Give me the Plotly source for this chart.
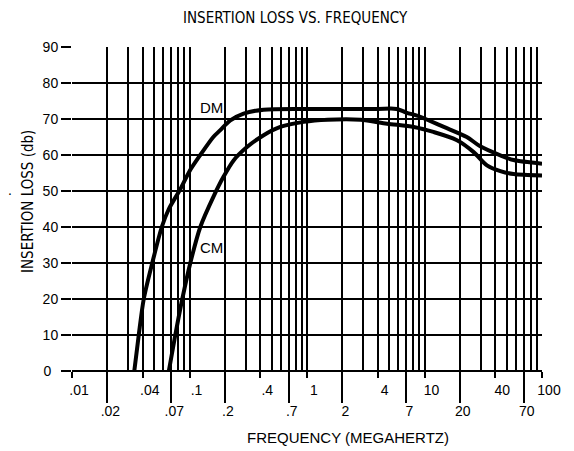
import plotly.graph_objects as go

# ---- data ----
dm_freq = [0.0339, 0.0370, 0.0408, 0.0482, 0.0581, 0.0667, 0.0835, 0.1, 0.1236, 0.1595, 0.1829,
           0.2225, 0.2887, 0.4272, 1, 2, 4, 5.8, 7, 9.2, 14.6, 22.9, 29.8, 44.2, 57.3, 100]
dm_db = [0, 10, 20, 30, 40, 45, 50.5, 55.5, 60, 65, 66.9,
         69.6, 71.5, 72.6, 72.8, 72.8, 72.8, 72.8, 71.8, 70.6, 67.8, 65.0, 62.4, 59.9, 58.6, 57.6]

cm_freq = [0.0667, 0.0757, 0.0868, 0.1016, 0.1236, 0.1604, 0.1951, 0.2373, 0.3086, 0.4272,
           0.5928, 0.9357, 1.5, 2.85, 4.8, 8.1, 11.9, 18.9, 26.2, 34, 44.2, 57.3, 100]
cm_db = [0, 10, 20, 30, 40, 48.5, 54, 58.5, 62.2, 65.5,
         67.8, 69.2, 69.8, 69.8, 68.7, 67.8, 66.4, 64.1, 60.8, 57.1, 55.5, 54.7, 54.3]

short_ticks = [0.01, 0.04, 0.1, 0.4, 1, 4, 10, 40, 100]
short_labels = [".01", ".04", ".1", ".4", "1", "4", "10", "40", "100"]
long_ticks = [0.02, 0.07, 0.2, 0.7, 2, 7, 20, 70]
long_labels = [".02", ".07", ".2", ".7", "2", "7", "20", "70"]
grid_freq = [m * 10 ** e for e in (-2, -1, 0, 1) for m in range(1, 10)] + [100]
y_ticks = [0, 10, 20, 30, 40, 50, 60, 70, 80, 90]
y_labels = ["0\u2002", "10", "20", "30", "40", "50", "60", "70", "80", "90"]

title_text = "INSERTION LOSS VS. FREQUENCY"
x_title = "FREQUENCY (MEGAHERTZ)"
y_title = "INSERTION LOSS (db)"

FONT = "Liberation Sans, Arial, sans-serif"
NARROW = "DejaVu Sans Condensed, Liberation Sans Narrow, Liberation Sans, sans-serif"

# page body has an 8px margin: figure is 8px smaller and offset
W, H = 566, 443
ML, MR, MT, MB = 64, 32, 39, 80
PW = W - ML - MR   # 470
PH = H - MT - MB   # 324


def px(xw):  # window x -> paper x
    return (xw - 8 - ML) / PW


def py(yw):  # window y -> paper y
    return 1 - (yw - 8 - MT) / PH


fig = go.Figure()
fig.add_trace(go.Scatter(x=dm_freq, y=dm_db, mode="lines", name="DM",
                         line=dict(color="black", width=4, shape="spline", smoothing=0.8),
                         xaxis="x", yaxis="y"))
fig.add_trace(go.Scatter(x=cm_freq, y=cm_db, mode="lines", name="CM",
                         line=dict(color="black", width=4, shape="spline", smoothing=0.8),
                         xaxis="x2", yaxis="y"))

axis_common = dict(type="log", range=[-2, 2], color="black",
                   tickfont=dict(family=FONT, size=14, color="black"),
                   tickcolor="black", tickwidth=2, ticks="outside")

fig.update_layout(
    width=W, height=H,
    margin=dict(l=ML, r=MR, t=MT, b=MB),
    paper_bgcolor="white", plot_bgcolor="white",
    showlegend=False,
    xaxis=dict(**axis_common, tickmode="array", tickvals=short_ticks, ticktext=short_labels,
               ticklen=6, ticklabelshift=7, automargin=False,
               showgrid=True, gridcolor="black", gridwidth=2,
               minor=dict(tickmode="array", tickvals=grid_freq, showgrid=True,
                          gridcolor="black", gridwidth=2, ticks=""),
               zeroline=False, showline=False),
    xaxis2=dict(**axis_common, overlaying="x", anchor="y", side="bottom", automargin=False,
                tickmode="array", tickvals=long_ticks, ticktext=long_labels,
                ticklen=31, ticklabelshift=3, ticklabelstandoff=-4,
                showgrid=False, zeroline=False, showline=False),
    yaxis=dict(range=[0, 90], tickmode="array", tickvals=y_ticks, ticktext=y_labels,
               automargin=False,
               ticks="outside", ticklen=10, tickwidth=2, tickcolor="black",
               tickfont=dict(family=FONT, size=14, color="black"),
               showgrid=True, gridcolor="black", gridwidth=2,
               zeroline=True, zerolinecolor="black", zerolinewidth=2, showline=False),
    annotations=[
        dict(text=title_text, xref="paper", yref="paper", x=px(295), y=py(18),
             showarrow=False, xanchor="center", yanchor="middle",
             font=dict(family=NARROW, size=15, color="black")),
        dict(text=x_title, xref="paper", yref="paper", x=px(348), y=py(437),
             showarrow=False, xanchor="center", yanchor="middle",
             font=dict(family=FONT, size=15, color="black")),
        dict(text=y_title, xref="paper", yref="paper", x=px(28), y=py(202),
             showarrow=False, xanchor="center", yanchor="middle", textangle=-90,
             font=dict(family=NARROW, size=15, color="black")),
        dict(text="DM", x=-0.814, y=73.2, xref="x", yref="y", showarrow=False,
             font=dict(family=FONT, size=15, color="black")),
        dict(text="CM", x=-0.814, y=34.2, xref="x", yref="y", showarrow=False,
             font=dict(family=FONT, size=15, color="black")),
        dict(text=".", xref="paper", yref="paper", x=px(6), y=py(190),
             showarrow=False, font=dict(family=FONT, size=14, color="black")),
    ],
)

fig.write_html("out.html")
